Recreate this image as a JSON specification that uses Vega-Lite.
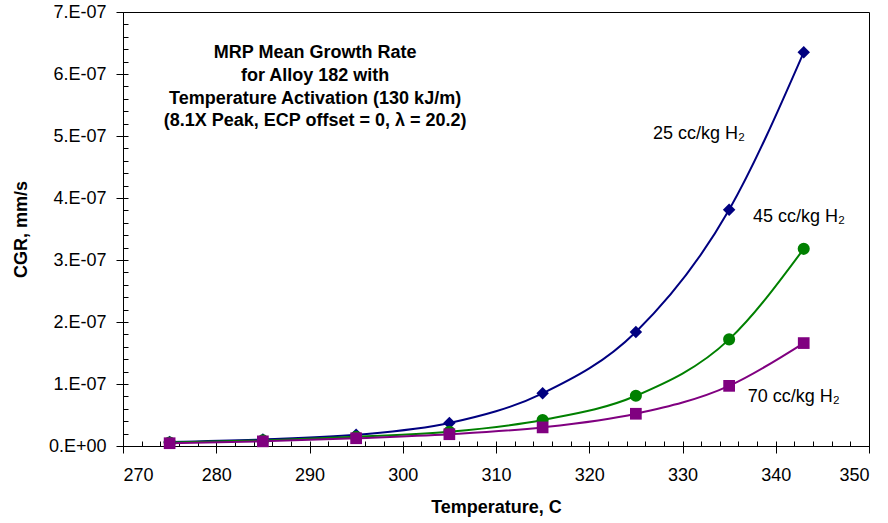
{
  "$schema": "https://vega.github.io/schema/vega-lite/v6.json",
  "width": 746,
  "height": 434,
  "autosize": {"type": "none"},
  "padding": {"left": 123, "top": 12, "right": 19, "bottom": 77},
  "background": "white",
  "config": {
    "view": {"stroke": "black", "strokeWidth": 1},
    "font": "Liberation Sans",
    "axis": {"grid": false, "domainColor": "black", "tickColor": "black", "labelColor": "black", "titleColor": "black", "labelFont": "Liberation Sans", "titleFont": "Liberation Sans"}
  },
  "data": {
    "values": [
      {"T": 275, "cgr": 0.065e-7, "series": "25 cc/kg H2"},
      {"T": 285, "cgr": 0.105e-7, "series": "25 cc/kg H2"},
      {"T": 295, "cgr": 0.18e-7, "series": "25 cc/kg H2"},
      {"T": 305, "cgr": 0.37e-7, "series": "25 cc/kg H2"},
      {"T": 315, "cgr": 0.85e-7, "series": "25 cc/kg H2"},
      {"T": 325, "cgr": 1.84e-7, "series": "25 cc/kg H2"},
      {"T": 335, "cgr": 3.81e-7, "series": "25 cc/kg H2"},
      {"T": 343, "cgr": 6.35e-7, "series": "25 cc/kg H2"},
      {"T": 275, "cgr": 0.055e-7, "series": "45 cc/kg H2"},
      {"T": 285, "cgr": 0.09e-7, "series": "45 cc/kg H2"},
      {"T": 295, "cgr": 0.15e-7, "series": "45 cc/kg H2"},
      {"T": 305, "cgr": 0.23e-7, "series": "45 cc/kg H2"},
      {"T": 315, "cgr": 0.42e-7, "series": "45 cc/kg H2"},
      {"T": 325, "cgr": 0.81e-7, "series": "45 cc/kg H2"},
      {"T": 335, "cgr": 1.72e-7, "series": "45 cc/kg H2"},
      {"T": 343, "cgr": 3.18e-7, "series": "45 cc/kg H2"},
      {"T": 275, "cgr": 0.045e-7, "series": "70 cc/kg H2"},
      {"T": 285, "cgr": 0.075e-7, "series": "70 cc/kg H2"},
      {"T": 295, "cgr": 0.125e-7, "series": "70 cc/kg H2"},
      {"T": 305, "cgr": 0.19e-7, "series": "70 cc/kg H2"},
      {"T": 315, "cgr": 0.30e-7, "series": "70 cc/kg H2"},
      {"T": 325, "cgr": 0.52e-7, "series": "70 cc/kg H2"},
      {"T": 335, "cgr": 0.97e-7, "series": "70 cc/kg H2"},
      {"T": 343, "cgr": 1.66e-7, "series": "70 cc/kg H2"}
    ]
  },
  "layer": [
    {
      "mark": {"type": "line", "interpolate": "monotone", "strokeWidth": 2},
      "encoding": {
        "x": {"field": "T", "type": "quantitative", "scale": {"domain": [270, 350], "nice": false, "zero": false},
          "axis": {"orient": "bottom", "values": [270, 280, 290, 300, 310, 320, 330, 340, 350], "tickSize": 7, "labelFontSize": 18, "labelPadding": 13, "title": "Temperature, C", "titleFontSize": 18, "titleFontWeight": "bold", "titlePadding": 14}},
        "y": {"field": "cgr", "type": "quantitative", "scale": {"domain": [0, 7e-7], "nice": false},
          "axis": {"orient": "left", "values": [0, 1e-7, 2e-7, 3e-7, 4e-7, 5e-7, 6e-7, 7e-7], "tickSize": 7, "labelFontSize": 18, "labelPadding": 10, "labelExpr": "datum.value == 0 ? '0.E+00' : round(datum.value * 1e7) + '.E-07'", "title": "CGR, mm/s", "titleFontSize": 18, "titleFontWeight": "bold", "titlePadding": 18}},
        "color": {"field": "series", "type": "nominal", "scale": {"domain": ["25 cc/kg H2", "45 cc/kg H2", "70 cc/kg H2"], "range": ["#000080", "#008000", "#800080"]}, "legend": null}
      }
    },
    {
      "mark": {"type": "point", "filled": true, "opacity": 1},
      "encoding": {
        "x": {"field": "T", "type": "quantitative", "axis": {"orient": "bottom", "values": [270,272,274,276,278,280,282,284,286,288,290,292,294,296,298,300,302,304,306,308,310,312,314,316,318,320,322,324,326,328,330,332,334,336,338,340,342,344,346,348,350], "tickSize": -5, "labels": false, "domain": false, "title": null}},
        "y": {"field": "cgr", "type": "quantitative", "axis": {"orient": "left", "values": [0,2e-8,4e-8,6e-8,8e-8,1e-7,1.2e-7,1.4e-7,1.6e-7,1.8e-7,2e-7,2.2e-7,2.4e-7,2.6e-7,2.8e-7,3e-7,3.2e-7,3.4e-7,3.6e-7,3.8e-7,4e-7,4.2e-7,4.4e-7,4.6e-7,4.8e-7,5e-7,5.2e-7,5.4e-7,5.6e-7,5.8e-7,6e-7,6.2e-7,6.4e-7,6.6e-7,6.8e-7,7e-7], "tickSize": -5, "labels": false, "domain": false, "title": null}},
        "color": {"field": "series", "type": "nominal", "legend": null},
        "shape": {"field": "series", "type": "nominal", "scale": {"domain": ["25 cc/kg H2", "45 cc/kg H2", "70 cc/kg H2"], "range": ["diamond", "circle", "square"]}, "legend": null},
        "size": {"field": "series", "type": "nominal", "scale": {"domain": ["25 cc/kg H2", "45 cc/kg H2", "70 cc/kg H2"], "range": [156, 137, 100]}, "legend": null}
      }
    },
    {
      "data": {"values": [
        {"label": "25 cc/kg H₂", "lx": 326.84, "ly": 4.95e-7},
        {"label": "45 cc/kg H₂", "lx": 337.56, "ly": 3.62e-7},
        {"label": "70 cc/kg H₂", "lx": 337.0, "ly": 0.715e-7}
      ]},
      "mark": {"type": "text", "align": "left", "baseline": "alphabetic", "fontSize": 18, "color": "black", "font": "Liberation Sans"},
      "encoding": {
        "x": {"field": "lx", "type": "quantitative", "axis": null},
        "y": {"field": "ly", "type": "quantitative", "axis": null},
        "text": {"field": "label", "type": "nominal"}
      }
    },
    {
      "data": {"values": [{"note": "MRP Mean Growth Rate|for Alloy 182 with|Temperature Activation (130 kJ/m)|(8.1X Peak, ECP offset = 0, λ = 20.2)"}]},
      "mark": {"type": "text", "align": "center", "baseline": "alphabetic", "fontSize": 18, "fontWeight": "bold", "lineBreak": "|", "lineHeight": 22.8, "color": "black", "font": "Liberation Sans"},
      "encoding": {
        "x": {"datum": 290.6, "type": "quantitative", "axis": null},
        "y": {"datum": 6.258e-7, "type": "quantitative", "axis": null},
        "text": {"field": "note", "type": "nominal"}
      }
    }
  ],
  "resolve": {"axis": {"x": "independent", "y": "independent"}}
}
